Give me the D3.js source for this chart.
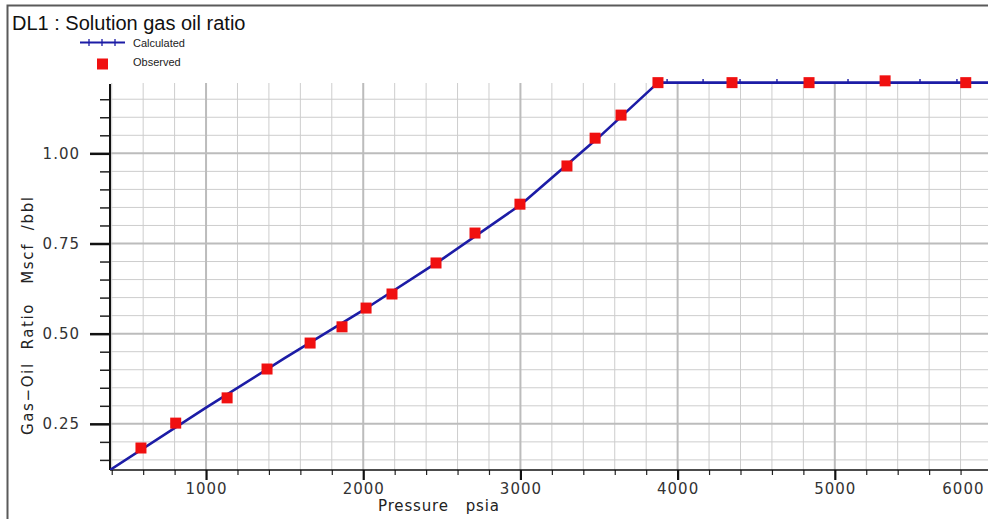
<!DOCTYPE html>
<html>
<head>
<meta charset="utf-8">
<script src="https://cdn.jsdelivr.net/npm/d3@7"></script>
<style>
  html, body { margin: 0; padding: 0; background: #ffffff; }
  svg { display: block; }
</style>
</head>
<body>
<script>
// ---------- data ----------
const chartTitle = "DL1 : Solution gas oil ratio";
const legendLabels = ["Calculated", "Observed"];
const xAxisTitle = "Pressure   psia";
const yAxisTitle = "Gas\u2212Oil  Ratio   Mscf  /bbl";

const xMajorTicks = [1000, 2000, 3000, 4000, 5000, 6000];
const yMajorTicks = [0.25, 0.50, 0.75, 1.00];

// Observed solution GOR (psia, Mscf/bbl)
const obsPressure = [586, 807, 1134, 1388, 1662, 1865, 2018, 2183, 2463, 2711, 2997, 3296, 3475, 3640, 3875, 4346, 4836, 5320, 5833];
const obsRs       = [0.183, 0.252, 0.322, 0.402, 0.474, 0.519, 0.571, 0.610, 0.696, 0.779, 0.859, 0.965, 1.042, 1.106, 1.196, 1.196, 1.196, 1.201, 1.196];

// Calculated curve
const calcPressure = [389, 1000, 1500, 2000, 2500, 3000, 3500, 3875, 3933, 4162, 4397, 4632, 4855, 5084, 5313, 5542, 5777, 6000, 6200];
const calcRs       = [0.122, 0.295, 0.432, 0.565, 0.706, 0.857, 1.045, 1.196, 1.196, 1.196, 1.196, 1.196, 1.196, 1.196, 1.196, 1.196, 1.196, 1.196, 1.196];
const calcMarked   = [false, false, false, false, false, false, false, false, true, true, true, true, true, true, true, true, true, true, true];

// ---------- layout ----------
const W = 988, H = 519;
const plot = { left: 110, right: 992, top: 83, bottom: 470 };

const svg = d3.select("body").append("svg")
  .attr("width", W).attr("height", H)
  .attr("viewBox", `0 0 ${W} ${H}`);

const x = d3.scaleLinear().domain([389, 6000]).range([plot.left, plot.right]);
const y = d3.scaleLinear().domain([0.122, 1.195]).range([plot.bottom, plot.top]);

const xMinorTicks = d3.range(400, 6201, 200).filter(v => v % 1000 !== 0);
const yMinorTicks = d3.range(0.15, 1.16, 0.05).map(v => +v.toFixed(2)).filter(v => Math.abs(v * 4 - Math.round(v * 4)) > 1e-6);

// outer frame
svg.append("rect")
  .attr("x", 7.5).attr("y", 5.5).attr("width", 1100).attr("height", 600)
  .attr("fill", "none").attr("stroke", "#5a5a5a").attr("stroke-width", 2);

// title
svg.append("text")
  .attr("x", 12).attr("y", 30)
  .attr("font-family", "Liberation Sans, Arial, sans-serif")
  .attr("font-size", 20).attr("fill", "#111")
  .text(chartTitle);

// ---------- grid ----------
const grid = svg.append("g");
grid.selectAll(".vminor").data(xMinorTicks).join("line")
  .attr("x1", d => x(d)).attr("x2", d => x(d))
  .attr("y1", plot.top).attr("y2", plot.bottom)
  .attr("stroke", "#cdcdcd").attr("stroke-width", 1);
grid.selectAll(".hminor").data(yMinorTicks).join("line")
  .attr("x1", plot.left).attr("x2", W)
  .attr("y1", d => y(d)).attr("y2", d => y(d))
  .attr("stroke", "#cdcdcd").attr("stroke-width", 1);
grid.selectAll(".vmajor").data(xMajorTicks).join("line")
  .attr("x1", d => x(d)).attr("x2", d => x(d))
  .attr("y1", plot.top).attr("y2", plot.bottom)
  .attr("stroke", "#bcbcbc").attr("stroke-width", 2);
grid.selectAll(".hmajor").data(yMajorTicks).join("line")
  .attr("x1", plot.left).attr("x2", W)
  .attr("y1", d => y(d)).attr("y2", d => y(d))
  .attr("stroke", "#bcbcbc").attr("stroke-width", 2);

// ---------- axes ----------
const tickFont = "DejaVu Sans, Verdana, sans-serif";

// x minor
svg.append("g").attr("transform", `translate(0,${plot.bottom})`)
  .call(d3.axisBottom(x).tickValues(xMinorTicks).tickSize(5).tickFormat(""))
  .call(g => g.select(".domain").remove())
  .call(g => g.selectAll("line").attr("stroke", "#222").attr("stroke-width", 1.2));
// x major
const xAx = svg.append("g").attr("transform", `translate(0,${plot.bottom})`)
  .call(d3.axisBottom(x).tickValues(xMajorTicks).tickSize(10).tickPadding(3).tickFormat(d3.format("d")))
  .call(g => g.select(".domain").remove())
  .call(g => g.selectAll("line").attr("stroke", "#111").attr("stroke-width", 2.2));
xAx.selectAll("text")
  .attr("font-family", tickFont).attr("font-size", 15)
  .attr("letter-spacing", "1px").attr("fill", "#333");
// keep last label inside the frame
xAx.selectAll(".tick").filter(d => d === 6000).select("text")
  .attr("text-anchor", "end").attr("dx", (W - 4) - x(6000));
// x axis line
svg.append("line")
  .attr("x1", plot.left).attr("x2", W).attr("y1", plot.bottom).attr("y2", plot.bottom)
  .attr("stroke", "#111").attr("stroke-width", 1.5);

// y minor
svg.append("g").attr("transform", `translate(${plot.left},0)`)
  .call(d3.axisLeft(y).tickValues(yMinorTicks).tickSize(10).tickFormat(""))
  .call(g => g.select(".domain").remove())
  .call(g => g.selectAll("line").attr("stroke", "#222").attr("stroke-width", 1.5));
// y major
const yAx = svg.append("g").attr("transform", `translate(${plot.left},0)`)
  .call(d3.axisLeft(y).tickValues(yMajorTicks).tickSize(20).tickPadding(10).tickFormat(d3.format(".2f")))
  .call(g => g.select(".domain").remove())
  .call(g => g.selectAll("line").attr("stroke", "#111").attr("stroke-width", 2.5));
yAx.selectAll("text")
  .attr("font-family", tickFont).attr("font-size", 15)
  .attr("letter-spacing", "1px").attr("fill", "#333");
// y axis line
svg.append("line")
  .attr("x1", plot.left).attr("x2", plot.left).attr("y1", plot.top + 1).attr("y2", plot.bottom)
  .attr("stroke", "#111").attr("stroke-width", 2);

// axis titles
svg.append("text")
  .attr("x", 378).attr("y", 511)
  .attr("font-family", tickFont).attr("font-size", 15).attr("fill", "#222")
  .attr("textLength", 121).attr("lengthAdjust", "spacing")
  .style("white-space", "pre")
  .text(xAxisTitle);

svg.append("text")
  .attr("transform", "translate(33,435) rotate(-90)")
  .attr("font-family", tickFont).attr("font-size", 15).attr("fill", "#222")
  .attr("textLength", 238).attr("lengthAdjust", "spacing")
  .style("white-space", "pre")
  .text(yAxisTitle);

// ---------- series ----------
svg.append("clipPath").attr("id", "plotclip")
  .append("rect").attr("x", plot.left).attr("y", plot.top - 4)
  .attr("width", W - plot.left).attr("height", plot.bottom - plot.top + 4);

const calcData = calcPressure.map((p, i) => ({ p, v: calcRs[i], m: calcMarked[i] }));
const lineGen = d3.line().x(d => x(d.p)).y(d => y(d.v));
const blue = "#1c1ca6";

svg.append("path")
  .datum(calcData)
  .attr("clip-path", "url(#plotclip)")
  .attr("d", lineGen)
  .attr("fill", "none").attr("stroke", blue).attr("stroke-width", 2.6)
  .attr("stroke-linejoin", "round");

svg.append("g").attr("clip-path", "url(#plotclip)")
  .selectAll("line").data(calcData.filter(d => d.m)).join("line")
  .attr("x1", d => x(d.p)).attr("x2", d => x(d.p))
  .attr("y1", d => y(d.v) - 4).attr("y2", d => y(d.v) + 1)
  .attr("stroke", blue).attr("stroke-width", 1.4);

const obsData = obsPressure.map((p, i) => ({ p, v: obsRs[i] }));
const sq = 11;
svg.append("g").selectAll("rect").data(obsData).join("rect")
  .attr("x", d => x(d.p) - sq / 2).attr("y", d => y(d.v) - sq / 2)
  .attr("width", sq).attr("height", sq)
  .attr("fill", "#f01010");

// ---------- legend ----------
const lg = svg.append("g");
lg.append("line").attr("x1", 80).attr("x2", 125).attr("y1", 42.5).attr("y2", 42.5)
  .attr("stroke", blue).attr("stroke-width", 2);
lg.selectAll(".lm").data([89, 102, 115]).join("line")
  .attr("x1", d => d).attr("x2", d => d).attr("y1", 39).attr("y2", 46)
  .attr("stroke", blue).attr("stroke-width", 1.3);
lg.append("rect").attr("x", 97).attr("y", 58.5).attr("width", sq).attr("height", sq)
  .attr("fill", "#f01010");
lg.selectAll("text").data(legendLabels).join("text")
  .attr("x", 133).attr("y", (d, i) => 47 + i * 19)
  .attr("font-family", "Liberation Sans, Arial, sans-serif")
  .attr("font-size", 11).attr("fill", "#222")
  .text(d => d);
</script>
</body>
</html>
